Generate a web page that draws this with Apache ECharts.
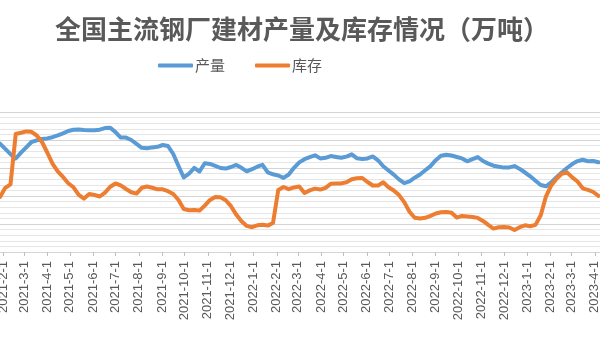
<!DOCTYPE html>
<html>
<head>
<meta charset="utf-8">
<script src="https://cdn.jsdelivr.net/npm/echarts@6/dist/echarts.min.js"></script>
<style>
html,body{margin:0;padding:0;background:#fff;}
#chart{width:600px;height:338px;}
</style>
</head>
<body>
<div id="chart"></div>
<script>
// Weekly series (万吨), first week 2021-1-28
const firstWeek = [2021, 1, 28];
const production = [
  386.8, 368.2, 349.3, 333.9, 354.6, 373.6, 392.9, 398.6, 403.6, 405.7,
  410.0, 416.4, 423.6, 432.1, 436.4, 437.5, 435.7, 434.6, 434.6, 436.8,
  442.5, 443.9, 428.2, 408.6, 408.6, 400.0, 386.1, 372.1, 370.7, 373.6,
  375.7, 382.1, 378.6, 350.0, 307.1, 266.1, 279.6, 300.7, 287.5, 317.1,
  314.6, 307.9, 300.0, 297.9, 303.6, 311.1, 300.7, 288.2, 295.7, 304.6,
  311.1, 284.6, 277.5, 273.2, 264.6, 276.8, 300.7, 320.0, 331.4, 338.9,
  345.4, 334.3, 336.4, 342.5, 339.6, 336.8, 340.7, 348.9, 334.6, 332.1,
  334.3, 341.1, 327.5, 306.1, 291.1, 276.4, 259.3, 246.1, 252.1, 265.4,
  276.8, 292.1, 306.8, 327.9, 343.6, 347.1, 344.6, 339.3, 334.3, 323.9,
  331.4, 338.9, 325.0, 315.7, 308.2, 304.6, 301.4, 302.1, 306.8, 296.8,
  283.9, 270.4, 254.6, 239.3, 234.6, 248.6, 267.1, 283.6, 300.0, 313.9,
  324.6, 329.3, 324.3, 325.0, 320.4
];
const inventory = [
  196.4, 229.3, 241.8, 421.4, 425.7, 430.7, 429.3, 416.1, 392.9, 355.4,
  315.4, 287.9, 267.9, 245.7, 231.1, 204.3, 190.7, 207.1, 203.6, 198.2,
  211.8, 232.9, 244.6, 238.2, 225.0, 213.2, 208.6, 229.3, 233.9, 229.3,
  223.9, 223.9, 217.1, 207.1, 185.7, 153.6, 148.9, 150.0, 147.9, 165.7,
  186.1, 196.4, 195.4, 185.0, 163.6, 133.6, 109.6, 93.2, 88.6, 95.4,
  97.1, 94.3, 103.6, 221.4, 232.1, 224.3, 230.7, 233.6, 210.7, 220.0,
  226.4, 222.9, 229.3, 243.6, 244.6, 245.0, 249.3, 259.6, 263.2, 264.3,
  250.0, 237.5, 237.1, 248.9, 231.4, 219.6, 203.2, 178.2, 143.9, 122.5,
  119.6, 122.1, 128.9, 137.5, 142.1, 142.9, 140.0, 122.9, 128.9, 126.8,
  125.0, 121.8, 111.1, 96.8, 83.6, 88.2, 89.3, 87.5, 78.6, 88.6,
  95.4, 91.8, 96.8, 131.4, 198.9, 237.9, 261.4, 279.6, 284.6, 266.4,
  251.8, 227.5, 222.1, 214.3, 200.4
];
const tickLabels = [
  '2021-2-1','2021-3-1','2021-4-1','2021-5-1','2021-6-1','2021-7-1','2021-8-1',
  '2021-9-1','2021-10-1','2021-11-1','2021-12-1','2022-1-1','2022-2-1','2022-3-1',
  '2022-4-1','2022-5-1','2022-6-1','2022-7-1','2022-8-1','2022-9-1','2022-10-1',
  '2022-11-1','2022-12-1','2023-1-1','2023-2-1','2023-3-1','2023-4-1'
];
const seriesNames = ['产量', '库存'];
const axisStart = [2021, 1, 28];
const axisEnd = [2023, 4, 8];

function fmt(d) { return d.getFullYear() + '-' + (d.getMonth() + 1) + '-' + d.getDate(); }
// daily category axis
const days = [];
{
  const d = new Date(axisStart[0], axisStart[1] - 1, axisStart[2], 12);
  const end = new Date(axisEnd[0], axisEnd[1] - 1, axisEnd[2], 12);
  while (d <= end) { days.push(fmt(d)); d.setDate(d.getDate() + 1); }
}
function weekDate(i) {
  const d = new Date(firstWeek[0], firstWeek[1] - 1, firstWeek[2] + i * 7, 12);
  return fmt(d);
}
const tickSet = new Set(tickLabels);
const showTick = (idx, val) => tickSet.has(val);

const chart = echarts.init(document.getElementById('chart'), null, { renderer: 'canvas' });
chart.setOption({
  animation: false,
  backgroundColor: '#ffffff',
  title: {
    text: '全国主流钢厂建材产量及库存情况（万吨）',
    left: 50, top: 11,
    textStyle: { fontFamily: 'Noto Sans CJK SC', fontSize: 26, fontWeight: 'bold', color: '#595959' }
  },
  legend: {
    left: 153, top: 53,
    icon: 'roundRect',
    itemWidth: 35, itemHeight: 4, itemGap: 30,
    textStyle: { fontFamily: 'Noto Sans CJK SC', fontSize: 15, color: '#595959', padding: [0, 0, 0, -3] },
    data: seriesNames
  },
  grid: { left: 0, right: 0, top: 112, bottom: 86, containLabel: false, outerBoundsMode: 'none' },
  xAxis: {
    type: 'category',
    data: days,
    boundaryGap: false,
    axisLine: { lineStyle: { color: '#d4d4d4', width: 1 } },
    axisTick: { show: true, interval: showTick, length: 4, lineStyle: { color: '#bfbfbf' } },
    axisLabel: {
      interval: showTick, rotate: 90, margin: 9,
      fontFamily: 'Liberation Sans', fontSize: 13, color: '#595959'
    },
    splitLine: { show: false }
  },
  yAxis: {
    type: 'value',
    min: 0, max: 500, interval: 100,
    axisLabel: { show: false },
    axisLine: { show: false },
    axisTick: { show: false },
    splitLine: { show: true, lineStyle: { color: '#d4d4d4', width: 1 } },
    minorTick: { show: false, splitNumber: 5 },
    minorSplitLine: { show: true, lineStyle: { color: '#e6e6e6', width: 1 } }
  },
  series: [
    {
      name: seriesNames[0], type: 'line', symbol: 'none', showSymbol: false,
      data: production.map((v, i) => [weekDate(i), v]),
      itemStyle: { color: '#5B9BD5' },
      lineStyle: { color: '#5B9BD5', width: 4, cap: 'round', join: 'round' }
    },
    {
      name: seriesNames[1], type: 'line', symbol: 'none', showSymbol: false,
      data: inventory.map((v, i) => [weekDate(i), v]),
      itemStyle: { color: '#ED7D31' },
      lineStyle: { color: '#ED7D31', width: 4, cap: 'round', join: 'round' }
    }
  ]
});
</script>
</body>
</html>
